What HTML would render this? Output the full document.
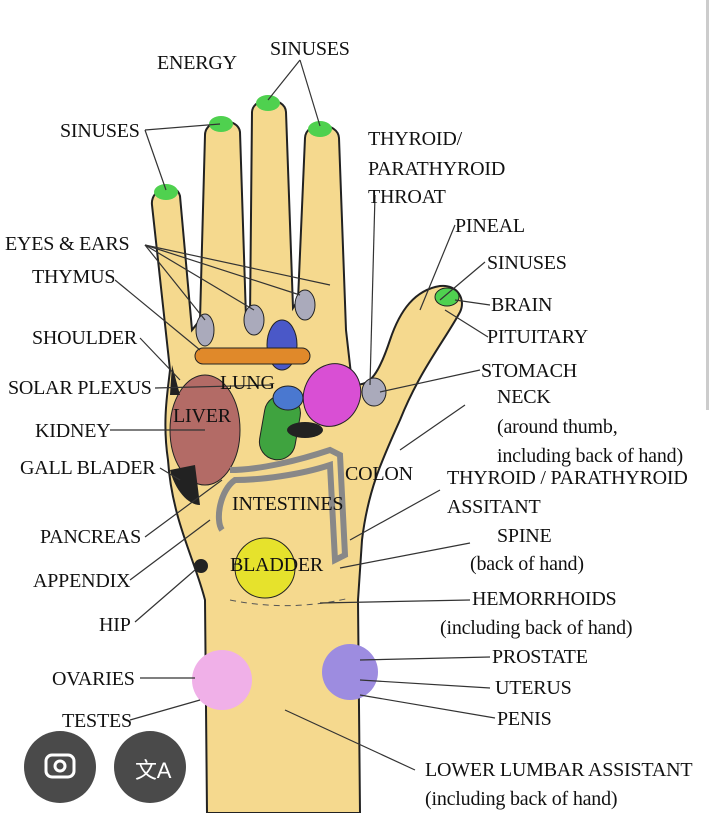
<!DOCTYPE html>
<html><head><meta charset="utf-8"><style>
body{margin:0;background:#fff;width:711px;height:813px;overflow:hidden}
svg text{font-family:"Liberation Serif",serif;font-size:20px;letter-spacing:-0.2px;fill:#111}
</style></head><body>
<svg width="711" height="813" viewBox="0 0 711 813">
<rect x="706" y="0" width="3" height="410" fill="#ccc"/>
<path d="M207,813 L205,600 C195,560 172,520 168,460 C162,420 168,390 170,370 L152,205 C150,188 176,180 180,196 L192,330 L200,320 L205,135 C205,118 238,116 240,132 L246,318 L250,318 L252,112 C253,96 285,96 286,112 L293,308 L298,300 L305,138 C306,120 338,122 339,138 L346,330 L352,383 C370,390 380,370 390,340 C400,310 415,290 440,286 C458,284 466,300 460,312 C445,340 420,370 400,420 C382,460 368,490 362,540 L358,600 L360,813 Z" fill="#f5d98e" stroke="#222" stroke-width="2"/>
<ellipse cx="166" cy="192" rx="12" ry="8" fill="#4fd14f"/>
<ellipse cx="221" cy="124" rx="12" ry="8" fill="#4fd14f"/>
<ellipse cx="268" cy="103" rx="12" ry="8" fill="#4fd14f"/>
<ellipse cx="320" cy="129" rx="12" ry="8" fill="#4fd14f"/>
<ellipse cx="447" cy="297" rx="12" ry="9" fill="#4fd14f" stroke="#222"/>
<ellipse cx="205" cy="330" rx="9" ry="16" fill="#aab" stroke="#222"/>
<ellipse cx="254" cy="320" rx="10" ry="15" fill="#aab" stroke="#222"/>
<ellipse cx="305" cy="305" rx="10" ry="15" fill="#aab" stroke="#222"/>
<ellipse cx="374" cy="392" rx="12" ry="14" fill="#aab" stroke="#222"/>
<ellipse cx="282" cy="345" rx="15" ry="25" fill="#4a58c8" stroke="#222"/>
<rect x="195" y="348" width="115" height="16" rx="8" fill="#e0892a" stroke="#222"/>
<ellipse cx="205" cy="430" rx="35" ry="55" fill="#b36b66" stroke="#222"/>
<path d="M170,470 C175,490 188,505 200,505 L195,465 Z" fill="#222"/>
<path d="M172,365 L180,395 L170,395 Z" fill="#222"/>
<ellipse cx="332" cy="395" rx="28" ry="32" fill="#d94fd4" stroke="#222" transform="rotate(25 332 395)"/>
<rect x="262" y="395" width="36" height="65" rx="18" fill="#3fa33f" stroke="#222" transform="rotate(10 280 427)"/>
<ellipse cx="288" cy="398" rx="15" ry="12" fill="#4a78d0" stroke="#222"/>
<ellipse cx="305" cy="430" rx="18" ry="8" fill="#222"/>
<path d="M230,470 C260,470 300,460 330,450 L340,455 L345,555 L335,560 L330,465 C300,475 260,480 235,480 C220,490 215,520 222,530" fill="none" stroke="#888" stroke-width="6"/>
<circle cx="265" cy="568" r="30" fill="#e6e22c" stroke="#222"/>
<circle cx="222" cy="680" r="30" fill="#f0b0e8"/>
<circle cx="350" cy="672" r="28" fill="#9d8ce0"/>
<circle cx="201" cy="566" r="7" fill="#222"/>
<path d="M230,600 C280,610 320,605 350,598" fill="none" stroke="#555" stroke-dasharray="6,5"/>
<g stroke="#333" stroke-width="1.2" fill="none">
<line x1="145" y1="130" x2="220" y2="124"/><line x1="145" y1="130" x2="166" y2="190"/>
<line x1="300" y1="60" x2="268" y2="100"/><line x1="300" y1="60" x2="320" y2="126"/>
<line x1="145" y1="245" x2="205" y2="320"/><line x1="145" y1="245" x2="254" y2="310"/><line x1="145" y1="245" x2="300" y2="295"/><line x1="145" y1="245" x2="330" y2="285"/>
<line x1="115" y1="280" x2="200" y2="350"/>
<line x1="140" y1="338" x2="180" y2="380"/>
<line x1="155" y1="388" x2="272" y2="385"/>
<line x1="110" y1="430" x2="205" y2="430"/>
<line x1="160" y1="468" x2="180" y2="480"/>
<line x1="145" y1="537" x2="222" y2="480"/>
<line x1="130" y1="580" x2="210" y2="520"/>
<line x1="135" y1="622" x2="195" y2="570"/>
<line x1="140" y1="678" x2="195" y2="678"/>
<line x1="130" y1="720" x2="200" y2="700"/>
<line x1="455" y1="225" x2="420" y2="310"/>
<line x1="485" y1="262" x2="440" y2="300"/>
<line x1="490" y1="305" x2="455" y2="300"/>
<line x1="488" y1="337" x2="445" y2="310"/>
<line x1="480" y1="370" x2="380" y2="392"/>
<line x1="465" y1="405" x2="400" y2="450"/>
<line x1="440" y1="490" x2="350" y2="540"/>
<line x1="470" y1="543" x2="340" y2="568"/>
<line x1="470" y1="600" x2="320" y2="603"/>
<line x1="490" y1="657" x2="360" y2="660"/>
<line x1="490" y1="688" x2="360" y2="680"/>
<line x1="495" y1="718" x2="360" y2="695"/>
<line x1="415" y1="770" x2="285" y2="710"/>
<line x1="375" y1="195" x2="370" y2="385"/>
</g>
<text x="157" y="69">ENERGY</text>
<text x="270" y="55">SINUSES</text>
<text x="60" y="137">SINUSES</text>
<text x="368" y="145">THYROID/</text>
<text x="368" y="175">PARATHYROID</text>
<text x="368" y="203">THROAT</text>
<text x="455" y="232">PINEAL</text>
<text x="5" y="250">EYES &amp; EARS</text>
<text x="487" y="269">SINUSES</text>
<text x="32" y="283">THYMUS</text>
<text x="491" y="311">BRAIN</text>
<text x="32" y="344">SHOULDER</text>
<text x="487" y="343">PITUITARY</text>
<text x="481" y="377">STOMACH</text>
<text x="8" y="394">SOLAR PLEXUS</text>
<text x="220" y="389">LUNG</text>
<text x="497" y="403">NECK</text>
<text x="173" y="422">LIVER</text>
<text x="35" y="437">KIDNEY</text>
<text x="497" y="433">(around thumb,</text>
<text x="497" y="462">including back of hand)</text>
<text x="20" y="474">GALL BLADER</text>
<text x="345" y="480">COLON</text>
<text x="447" y="484">THYROID / PARATHYROID</text>
<text x="232" y="510">INTESTINES</text>
<text x="447" y="513">ASSITANT</text>
<text x="40" y="543">PANCREAS</text>
<text x="497" y="542">SPINE</text>
<text x="470" y="570">(back of hand)</text>
<text x="230" y="571">BLADDER</text>
<text x="33" y="587">APPENDIX</text>
<text x="472" y="605">HEMORRHOIDS</text>
<text x="99" y="631">HIP</text>
<text x="440" y="634">(including back of hand)</text>
<text x="492" y="663">PROSTATE</text>
<text x="52" y="685">OVARIES</text>
<text x="495" y="694">UTERUS</text>
<text x="62" y="727">TESTES</text>
<text x="497" y="725">PENIS</text>
<text x="425" y="776">LOWER LUMBAR ASSISTANT</text>
<text x="425" y="805">(including back of hand)</text>
<circle cx="60" cy="767" r="36" fill="#4a4a4a"/>
<circle cx="150" cy="767" r="36" fill="#4a4a4a"/>
<rect x="46" y="755" width="28" height="22" rx="6" fill="none" stroke="#fff" stroke-width="3"/>
<circle cx="60" cy="766" r="5" fill="none" stroke="#fff" stroke-width="3"/>
<text x="135" y="778" style="fill:#fff;font-family:'Liberation Sans','Noto Sans CJK SC',sans-serif;font-size:22px">文A</text>
</svg>
</body></html>
